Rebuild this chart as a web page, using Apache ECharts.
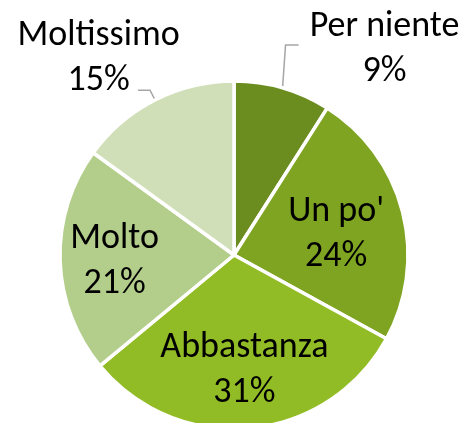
<!DOCTYPE html>
<html><head><meta charset="utf-8">
<script src="https://cdn.jsdelivr.net/npm/echarts@6/dist/echarts.min.js"></script>
<style>html,body{margin:0;padding:0;background:#fff}#c{width:466px;height:423px}</style>
</head><body><div id="c"></div>
<script>
const categories = ['Per niente', "Un po'", 'Abbastanza', 'Molto', 'Moltissimo'];
const values = [9, 24, 31, 21, 15];
const colors = ['#6b8c1e', '#7ea421', '#92bc25', '#b3cd8a', '#d0dfb8'];
const outside = [true, false, false, false, true];
const nudges = [[86, 5], [15, 2], [2, 26], [-29.5, 4], [-39.5, -32]];
const lineLen = [[43, 13], null, null, null, [11, 12]];
const lineBend = [[3, -43], null, null, null, null];

const chart = echarts.init(document.getElementById('c'), null, {renderer: 'canvas'});
const data = categories.map((name, i) => ({
  name: name,
  value: values[i],
  itemStyle: {color: colors[i]},
  label: {position: outside[i] ? 'outside' : 'inside'},
  labelLine: outside[i] ? {show: true, length: lineLen[i][0], length2: lineLen[i][1]} : {show: false}
}));
chart.setOption({
  animation: false,
  series: [{
    type: 'pie',
    center: [234, 255],
    radius: 174,
    startAngle: 90,
    clockwise: true,
    avoidLabelOverlap: false,
    data: data,
    itemStyle: {borderColor: '#ffffff', borderWidth: 3.5},
    label: {
      formatter: '{b}\n{c}%',
      fontFamily: 'Carlito, Lato, sans-serif',
      fontSize: 36,
      lineHeight: 45,
      color: '#000000'
    },
    labelLine: {lineStyle: {color: '#a6a6a6', width: 1.5}, smooth: false},
    labelLayout: function (p) {
      const i = p.dataIndex;
      const n = nudges[i];
      let ax, ay, pts = p.labelLinePoints;
      if (outside[i] && pts) {
        if (lineBend[i]) {
          const p0 = pts[0];
          const p1 = [p0[0] + lineBend[i][0], p0[1] + lineBend[i][1]];
          const p2 = [p1[0] + lineLen[i][1], p1[1]];
          pts = [p0, p1, p2];
        }
        const e = pts[2];
        ax = e[0]; ay = e[1];
      } else {
        ax = p.labelRect.x + p.labelRect.width / 2;
        ay = p.labelRect.y + p.labelRect.height / 2;
      }
      const out = {x: ax + n[0], y: ay + n[1], align: 'center', verticalAlign: 'middle'};
      if (pts) out.labelLinePoints = pts;
      return out;
    }
  }]
});
</script></body></html>
